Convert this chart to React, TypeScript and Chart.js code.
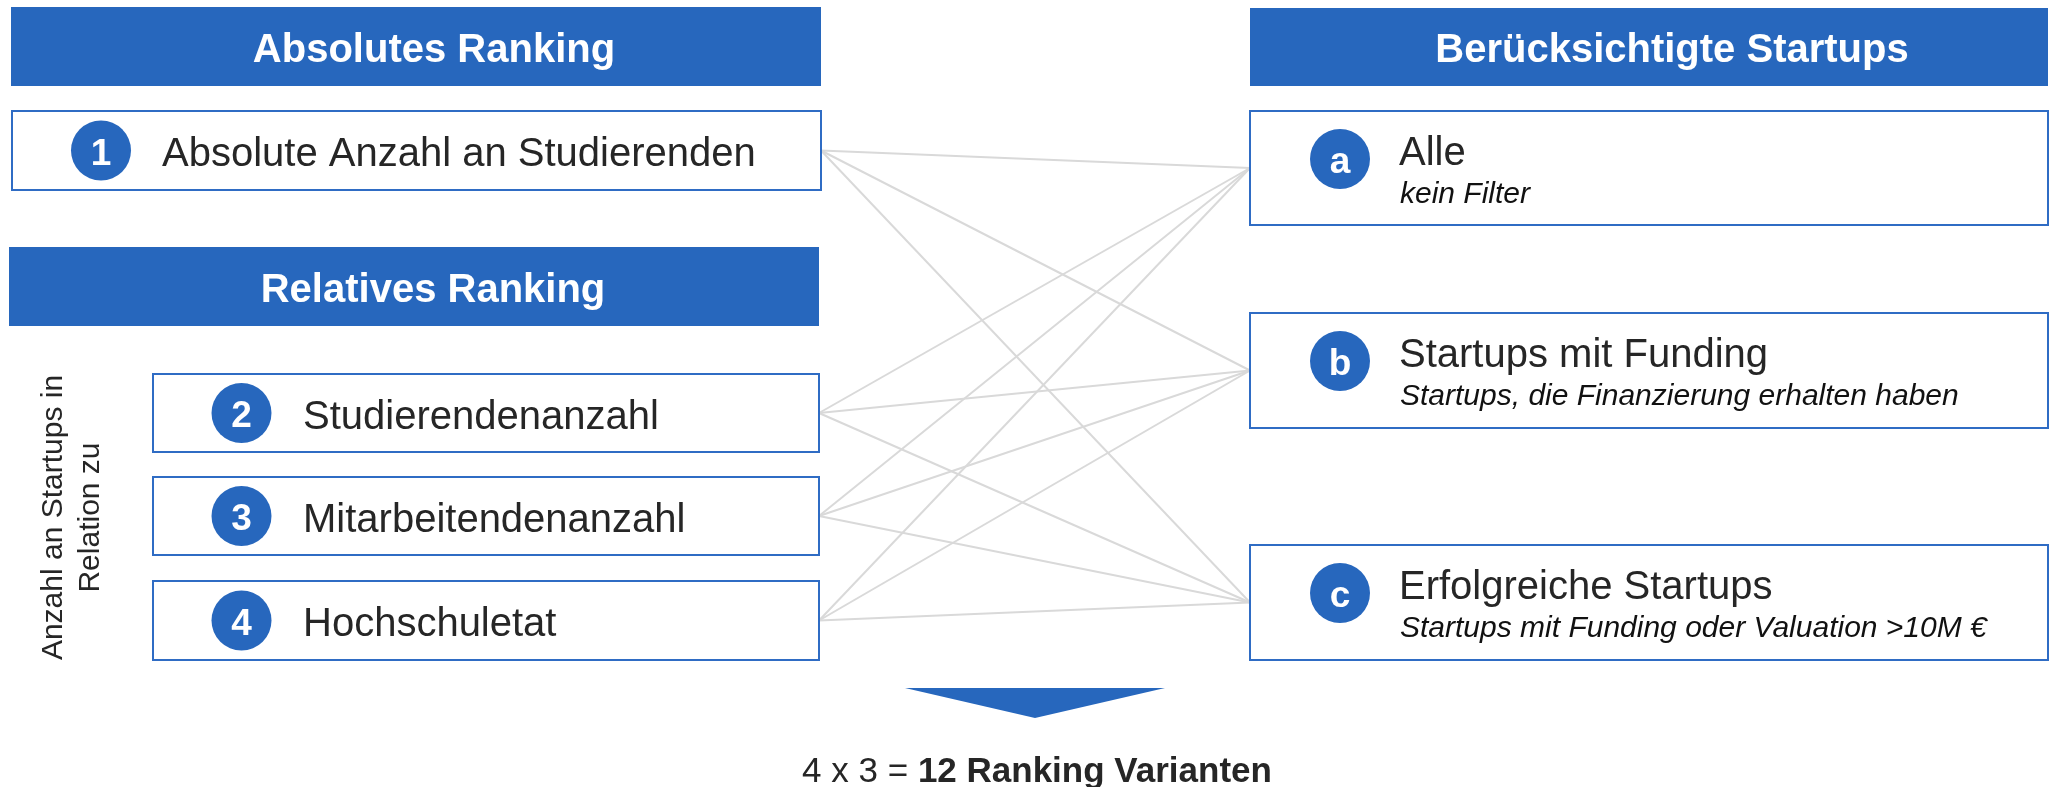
import React, { useEffect, useRef } from "react";
import { Chart, registerables } from "chart.js";

Chart.register(...registerables);

// ---- content ----
const headers = ["Absolutes Ranking", "Relatives Ranking", "Berücksichtigte Startups"];
const leftKeys = ["1", "2", "3", "4"];
const leftLabels = [
  "Absolute Anzahl an Studierenden",
  "Studierendenanzahl",
  "Mitarbeitendenanzahl",
  "Hochschuletat",
];
const rightKeys = ["a", "b", "c"];
const rightTitles = ["Alle", "Startups mit Funding", "Erfolgreiche Startups"];
const rightSubtitles = [
  "kein Filter",
  "Startups, die Finanzierung erhalten haben",
  "Startups mit Funding oder Valuation >10M €",
];
const sideNote = ["Anzahl an Startups in", "Relation zu"];
const resultPrefix = "4 x 3 = ";
const resultBold = "12 Ranking Varianten";

// ---- layout (diagram units = pixels) ----
const W = 2051;
const H = 787;
const BLUE = "#2767bd";
const BORDER = "#2f6cc4";
const TEXT = "#262626";
const LINE = "#d9d9d9";
const FONT = '"Liberation Sans", Arial, Helvetica, sans-serif';

const headerBoxes = [
  { x: 11, y: 7, w: 810, h: 79, tx: 434, ty: 62 },
  { x: 9, y: 247, w: 810, h: 79, tx: 433, ty: 302 },
  { x: 1250, y: 8, w: 798, h: 78, tx: 1672, ty: 62 },
];
const leftBoxes = [
  { x: 12, y: 111, w: 809, h: 79, cx: 101, tx: 162 },
  { x: 153, y: 374, w: 666, h: 78, cx: 241.5, tx: 303 },
  { x: 153, y: 477, w: 666, h: 78, cx: 241.5, tx: 303 },
  { x: 153, y: 581, w: 666, h: 79, cx: 241.5, tx: 303 },
];
const rightBoxes = [
  { x: 1250, y: 111, w: 798, h: 114 },
  { x: 1250, y: 313, w: 798, h: 115 },
  { x: 1250, y: 545, w: 798, h: 115 },
];

function buildLineDatasets() {
  const ds: any[] = [];
  leftBoxes.forEach((l) => {
    rightBoxes.forEach((r) => {
      ds.push({
        type: "scatter",
        showLine: true,
        data: [
          { x: l.x + l.w, y: l.y + l.h / 2 },
          { x: r.x, y: r.y + r.h / 2 },
        ],
        borderColor: LINE,
        borderWidth: 2,
        pointRadius: 0,
        fill: false,
      });
    });
  });
  return ds;
}

const diagramPlugin = {
  id: "diagram",
  afterDatasetsDraw(chart: any) {
    const ctx: CanvasRenderingContext2D = chart.ctx;
    const xs = chart.scales.x;
    const ys = chart.scales.y;
    const px = (v: number) => xs.getPixelForValue(v);
    const py = (v: number) => ys.getPixelForValue(v);
    const rect = (b: any) => [px(b.x), py(b.y), px(b.x + b.w) - px(b.x), py(b.y + b.h) - py(b.y)];

    ctx.save();
    // headers
    headerBoxes.forEach((b, i) => {
      const [x, y, w, h] = rect(b);
      ctx.fillStyle = BLUE;
      ctx.fillRect(x, y, w, h);
      ctx.fillStyle = "#ffffff";
      ctx.font = `bold 40px ${FONT}`;
      ctx.textAlign = "center";
      ctx.textBaseline = "alphabetic";
      ctx.fillText(headers[i], px(b.tx), py(b.ty));
    });

    const circle = (cx: number, cy: number, key: string) => {
      ctx.beginPath();
      ctx.arc(px(cx), py(cy), 30, 0, Math.PI * 2);
      ctx.fillStyle = BLUE;
      ctx.fill();
      ctx.fillStyle = "#ffffff";
      ctx.font = `bold 37px ${FONT}`;
      ctx.textAlign = "center";
      ctx.textBaseline = "alphabetic";
      ctx.fillText(key, px(cx), py(cy + 14));
    };

    // left boxes
    leftBoxes.forEach((b, i) => {
      const [x, y, w, h] = rect(b);
      ctx.fillStyle = "#ffffff";
      ctx.fillRect(x, y, w, h);
      ctx.strokeStyle = BORDER;
      ctx.lineWidth = 2;
      ctx.strokeRect(x, y, w, h);
      const cy = b.y + b.h / 2;
      circle(b.cx, cy, leftKeys[i]);
      ctx.fillStyle = TEXT;
      ctx.font = `40px ${FONT}`;
      ctx.textAlign = "left";
      ctx.textBaseline = "alphabetic";
      ctx.fillText(leftLabels[i], px(b.tx), py(cy + 15.5));
    });

    // right boxes
    rightBoxes.forEach((b, i) => {
      const [x, y, w, h] = rect(b);
      ctx.fillStyle = "#ffffff";
      ctx.fillRect(x, y, w, h);
      ctx.strokeStyle = BORDER;
      ctx.lineWidth = 2;
      ctx.strokeRect(x, y, w, h);
      circle(b.x + 90, b.y + 48, rightKeys[i]);
      ctx.fillStyle = TEXT;
      ctx.textAlign = "left";
      ctx.textBaseline = "alphabetic";
      ctx.font = `40px ${FONT}`;
      ctx.fillText(rightTitles[i], px(b.x + 149), py(b.y + 54));
      ctx.fillStyle = "#111111";
      ctx.font = `italic 30px ${FONT}`;
      ctx.fillText(rightSubtitles[i], px(b.x + 150), py(b.y + 92));
    });

    // rotated side note
    ctx.fillStyle = TEXT;
    ctx.font = `30px ${FONT}`;
    ctx.textAlign = "center";
    ctx.textBaseline = "alphabetic";
    const sideX = [62, 99];
    sideNote.forEach((t, i) => {
      ctx.save();
      ctx.translate(px(sideX[i]), py(517.5));
      ctx.rotate(-Math.PI / 2);
      ctx.fillText(t, 0, 0);
      ctx.restore();
    });

    // arrow
    ctx.beginPath();
    ctx.moveTo(px(905), py(688));
    ctx.lineTo(px(1165), py(688));
    ctx.lineTo(px(1035), py(718));
    ctx.closePath();
    ctx.fillStyle = BLUE;
    ctx.fill();

    // result text
    ctx.textAlign = "left";
    ctx.textBaseline = "alphabetic";
    ctx.font = `35px ${FONT}`;
    const w1 = ctx.measureText(resultPrefix).width;
    ctx.font = `bold 35px ${FONT}`;
    const w2 = ctx.measureText(resultBold).width;
    const start = px(1037) - (w1 + w2) / 2;
    ctx.fillStyle = TEXT;
    ctx.font = `35px ${FONT}`;
    ctx.fillText(resultPrefix, start, py(782));
    ctx.font = `bold 35px ${FONT}`;
    ctx.fillText(resultBold, start + w1, py(782));

    ctx.restore();
  },
};

export default function App() {
  const ref = useRef<HTMLCanvasElement | null>(null);
  useEffect(() => {
    document.body.style.margin = "0";
    const canvas = ref.current;
    if (!canvas) return;
    const chart = new Chart(canvas, {
      type: "scatter",
      data: { datasets: buildLineDatasets() },
      options: {
        animation: false,
        responsive: false,
        devicePixelRatio: 1,
        layout: { padding: 0 },
        scales: {
          x: { type: "linear", min: 0, max: W, display: false },
          y: { type: "linear", min: 0, max: H, reverse: true, display: false },
        },
        plugins: { legend: { display: false }, tooltip: { enabled: false } },
        events: [],
      },
      plugins: [diagramPlugin],
    } as any);
    return () => chart.destroy();
  }, []);
  return (
    <div style={{ width: W, height: H, background: "#ffffff" }}>
      <canvas ref={ref} width={W} height={H} style={{ display: "block" }} />
    </div>
  );
}
